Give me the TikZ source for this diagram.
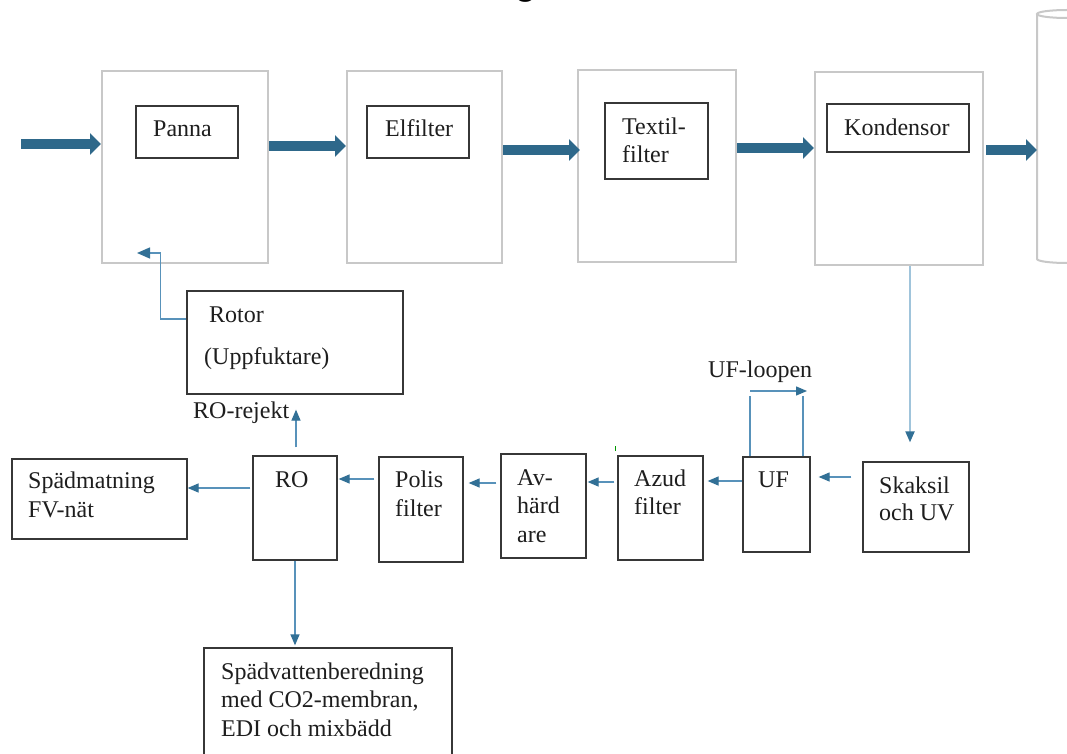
\documentclass[tikz,border=0pt]{standalone}
\usepackage{fontspec}
\setmainfont{Liberation Serif}
\newfontfamily\titlefont{Carlito}
\usetikzlibrary{arrows.meta,calc,fit}
\definecolor{bigblue}{RGB}{46,104,138}
\definecolor{thinblue}{RGB}{88,146,186}
\definecolor{lightline}{RGB}{160,196,219}
\definecolor{headblue}{RGB}{50,112,150}
\definecolor{boxgray}{RGB}{200,200,200}
\definecolor{boxdark}{RGB}{55,55,55}
\definecolor{txt}{RGB}{30,30,30}
\begin{document}
\begin{tikzpicture}[x=1pt,y=-1pt,
  outerbox/.style={draw=boxgray, line width=2pt, inner sep=0pt},
  innerbox/.style={draw=boxdark, line width=1.3pt, inner sep=0pt},
  lbl/.style={anchor=base west, inner sep=0pt, text=txt, font=\fontsize{24}{28.5}\selectfont, align=left},
  big/.style={draw=bigblue, line width=10pt, -{Triangle[length=11pt,width=21pt,color=bigblue]}},
  conn/.style={draw=thinblue, line width=1.3pt, -{Triangle[length=11pt,width=9pt,color=headblue]}},
  plain/.style={draw=thinblue, line width=1.3pt},
]
\clip (0,0) rectangle (1067,754);
\fill[white] (0,0) rectangle (1067,754);

% partially visible title
\node[anchor=base, inner sep=0pt, font=\titlefont\fontsize{40}{40}\selectfont] (title) at (526,-4) {g};

% top row: outer gray boxes
\node[outerbox, fit={(102,71)(268,263)}] (b1) {};
\node[outerbox, fit={(347,71)(502,263)}] (b2) {};
\node[outerbox, fit={(578,70)(736,262)}] (b3) {};
\node[outerbox, fit={(815,72)(983,265)}] (b4) {};

% cylinder
\draw[boxgray, line width=2pt] (1037,14) -- (1037,259)
  arc[start angle=180, end angle=360, x radius=30pt, y radius=4pt];
\draw[boxgray, line width=2pt] (1067,14) ellipse [x radius=30pt, y radius=4pt];
\coordinate (cyl) at (1037,150);

% inner boxes
\node[innerbox, fit={(136,106)(238,158)}] (panna) {};
\node[innerbox, fit={(367,106)(469,158)}] (elf) {};
\node[innerbox, fit={(605,103)(708,179)}] (tex) {};
\node[innerbox, fit={(827,104)(969,152)}] (kond) {};

\node[lbl] (tpanna) at (153,137) {Panna};
\node[lbl] (telf) at (385,137) {Elfilter};
\node[lbl] (ttex1) at (622,135) {Textil-};
\node[lbl] (ttex2) at (622,163) {filter};
\node[lbl] (tkond) at (844,136) {Kondensor};

% big arrows
\coordinate (in) at (21,144);
\draw[big] (in) -- (b1.west |- in);
\draw[big] (b1.east |- 0,146) -- (b2.west |- 0,146);
\draw[big] (b2.east |- 0,150) -- ([xshift=3pt]b3.west |- 0,150);
\draw[big] (b3.east |- 0,148) -- (b4.west |- 0,148);
\draw[big] ([xshift=2pt]b4.east |- 0,150) -- (cyl);

% rotor
\node[innerbox, fit={(187,291)(403,394)}] (rotor) {};
\node[lbl] (trotor1) at (209,322) {Rotor};
\node[lbl] (trotor2) at (204,364) {(Uppfuktare)};
\node[lbl] (trej) at (193,418) {RO-rejekt};

% bottom row
\node[innerbox, fit={(12,459)(187,539)}] (sp) {};
\node[innerbox, fit={(253,456)(337,560)}] (ro) {};
\node[innerbox, fit={(379,457)(463,562)}] (po) {};
\node[innerbox, fit={(501,454)(586,558)}] (av) {};
\node[innerbox, fit={(618,456)(703,560)}] (az) {};
\node[innerbox, fit={(743,457)(810,552)}] (uf) {};
\node[innerbox, fit={(863,462)(969,552)}] (sk) {};
\node[innerbox, fit={(204,648)(452,780)}] (edi) {};

\node[lbl] (tsp1) at (28,488) {Spädmatning};
\node[lbl] (tsp2) at (28,517) {FV-nät};
\node[lbl] (tro) at (275,487) {RO};
\node[lbl] (tpo1) at (395,487) {Polis};
\node[lbl] (tpo2) at (395,516) {filter};
\node[lbl] (tav1) at (517,485) {Av-};
\node[lbl] (tav2) at (517,513) {härd};
\node[lbl] (tav3) at (517,542) {are};
\node[lbl] (taz1) at (634,486) {Azud};
\node[lbl] (taz2) at (634,514) {filter};
\node[lbl] (tuf) at (758,487) {UF};
\node[lbl] (tsk1) at (879,493) {Skaksil};
\node[lbl] (tsk2) at (879,520) {och UV};
\node[lbl] (tedi1) at (221,679) {Spädvattenberedning};
\node[lbl] (tedi2) at (221,707) {med CO2-membran,};
\node[lbl] (tedi3) at (221,736) {EDI och mixbädd};
\node[lbl] (tloop) at (708,377) {UF-loopen};

% thin connectors
\draw[conn, draw=lightline, line width=2pt, shorten >=19pt] (b4.south -| 910,0) -- (sk.north -| 910,0);
\draw[conn, shorten <=11pt, shorten >=8pt] (sk.west |- 0,477) -- (uf.east |- 0,477);
\draw[conn, shorten >=4pt] (uf.west |- 0,481) -- (az.east |- 0,481);
\draw[conn, shorten <=3pt, shorten >=1pt] (az.west |- 0,482) -- (av.east |- 0,482);
\draw[conn, shorten <=4pt, shorten >=5pt] (av.west |- 0,483) -- (po.east |- 0,483);
\draw[conn, shorten <=4pt, shorten >=1pt] (po.west |- 0,479) -- (ro.east |- 0,479);
\draw[conn, shorten <=2pt] (ro.west |- 0,488) -- (sp.east |- 0,488);
\draw[conn, shorten >=2pt] (ro.south -| 295,0) -- (edi.north -| 295,0);
\draw[conn, shorten <=8pt, shorten >=15pt] (ro.north -| 296,0) -- (rotor.south -| 296,0);
\draw[conn, -{Triangle[length=13pt,width=11pt,color=headblue]}] (rotor.west |- 0,319) -- ++(-26,0) |- ($(b1.south west)+(36,-11)$);

% UF loop
\draw[plain] (uf.north -| 750,0) -- ++(0,-60);
\draw[plain] (uf.north -| 803,0) -- ++(0,-60);
\coordinate (loopA) at (750,391);
\coordinate (loopB) at (807,391);
\draw[conn] (loopA) -- (loopB);

% small green mark
\draw[green!60!black, line width=0.8pt] (615,446) -- (615,451);
\end{tikzpicture}
\end{document}
